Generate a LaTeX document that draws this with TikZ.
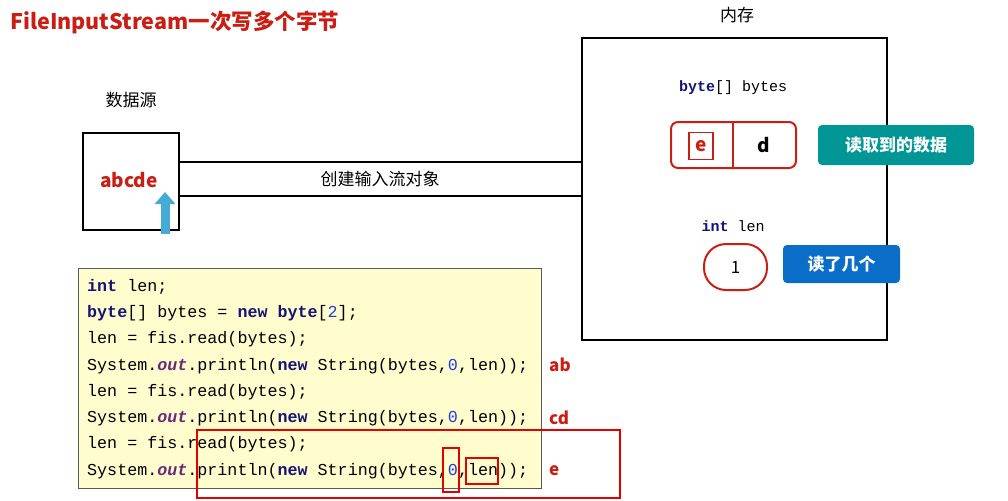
\documentclass[tikz,border=0pt]{standalone}
\usepackage{fontspec}
\setmainfont{Noto Sans CJK SC}
\setmonofont{Liberation Mono}
\usetikzlibrary{arrows.meta}
\definecolor{tred}{RGB}{200,30,20}
\definecolor{kw}{RGB}{20,20,120}
\definecolor{outc}{RGB}{110,40,120}
\definecolor{numc}{RGB}{30,60,220}
\definecolor{teal1}{RGB}{0,150,150}
\definecolor{blue1}{RGB}{10,110,200}
\definecolor{arrc}{RGB}{70,170,215}
\definecolor{codebg}{RGB}{255,252,205}
\newcommand{\kwd}[1]{\textbf{\color{kw}#1}}
\newcommand{\outw}{\textbf{\textit{\color{outc}out}}}
\begin{document}
\begin{tikzpicture}[x=1pt,y=-1pt,
  box/.style={draw=black,line width=1.3pt},
  lbl/.style={font=\fontsize{17}{17}\selectfont},
  btn/.style={rounded corners=4pt,text=white,font=\bfseries\fontsize{17}{17}\selectfont},
  code/.style={anchor=west,font=\ttfamily\fontsize{16.7}{16}\selectfont,inner sep=0pt},
  res/.style={anchor=west,text=tred,font=\bfseries\fontsize{17}{17}\selectfont,inner sep=0pt},
  redr/.style={draw=red!90!black,line width=1.2pt}]
\useasboundingbox (0,0) rectangle (1008,500);
\node[anchor=west,inner sep=0pt,text=tred,font=\bfseries\fontsize{21.5}{21.5}\selectfont] (title) at (10,22) {FileInputStream一次写多个字节};
\node[lbl] (srcl) at (131,100) {数据源};
\node[box,minimum width=96pt,minimum height=97pt,inner sep=0pt] (src) at (131,181.5) {};
\node[text=tred,font=\bfseries\fontsize{19}{19}\selectfont] (abc) at (129,180) {abcde};
\node[box,minimum width=305pt,minimum height=302pt,inner sep=0pt] (mem) at (734.5,189) {};
\node[lbl] (meml) at (737,15) {内存};
\coordinate (t1) at (179,162); \coordinate (t2) at (582,162);
\coordinate (b1) at (179,196); \coordinate (b2) at (582,196);
\draw[line width=1.3pt] (t1) -- (t2);
\draw[line width=1.3pt] (b1) -- (b2);
\node[lbl] (strm) at (380,179) {创建输入流对象};
\coordinate (a1) at (165,234); \coordinate (a2) at (165,192);
\draw[-{Triangle[width=20pt,length=12pt]},line width=9pt,color=arrc] (a1) -- (a2);
\node[font=\ttfamily\fontsize{15}{15}\selectfont] (bytesl) at (733,88) {\kwd{byte}[] bytes};
\draw[draw=tred,line width=2pt,rounded corners=7pt] (671,122) rectangle (796,168);
\draw[draw=tred,line width=2pt] (733,122) -- (733,168);
\node[draw=tred,line width=1.5pt,minimum width=24pt,minimum height=27pt,inner sep=0pt,text=tred,font=\bfseries\fontsize{19}{19}\selectfont] (ecell) at (701,146) {e};
\node[font=\bfseries\fontsize{19}{19}\selectfont] (dcell) at (764,145) {d};
\node[btn,fill=teal1,minimum width=156pt,minimum height=40pt] (rd) at (896,145) {读取到的数据};
\node[font=\ttfamily\fontsize{15}{15}\selectfont] (lenl) at (733,226) {\kwd{int} len};
\node[draw=tred,line width=2pt,rounded corners=22pt,minimum width=63pt,minimum height=46pt,font=\fontsize{17}{17}\selectfont] (one) at (735.5,267) {1};
\node[btn,fill=blue1,minimum width=117pt,minimum height=38pt] (cnt) at (841.5,264) {读了几个};
\node[draw=gray!70!black,line width=1pt,fill=codebg,minimum width=463pt,minimum height=220pt,inner sep=0pt] (cb) at (309.5,378) {};
\node[code] (c1) at (87,287) {\kwd{int} len;};
\node[code] (c2) at (87,313) {\kwd{byte}[] bytes = \kwd{new} \kwd{byte}[{\color{numc}2}];};
\node[code] (c3) at (87,339) {len = fis.read(bytes);};
\node[code] (c4) at (87,366) {System.\outw.println(\kwd{new} String(bytes,{\color{numc}0},len));};
\node[code] (c5) at (87,392) {len = fis.read(bytes);};
\node[code] (c6) at (87,418) {System.\outw.println(\kwd{new} String(bytes,{\color{numc}0},len));};
\node[code] (c7) at (87,444) {len = fis.read(bytes);};
\node[code] (c8) at (87,471) {System.\outw.println(\kwd{new} String(bytes,{\color{numc}0},len));};
\node[res] (r1) at (549,365) {ab};
\node[res] (r2) at (549,418) {cd};
\node[res] (r3) at (549,471) {e};
\draw[redr] (197,430) rectangle (620,498);
\draw[redr] (443,448) rectangle (459,492);
\draw[redr] (466,458) rectangle (498,484);
\end{tikzpicture}
\end{document}
